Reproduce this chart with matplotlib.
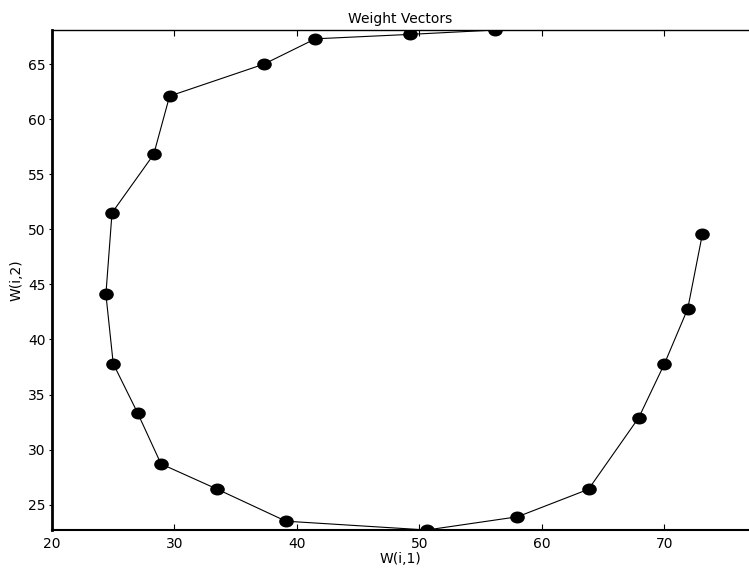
import numpy as np
import matplotlib
matplotlib.use("Agg")
import matplotlib.pyplot as plt
from matplotlib.path import Path
from matplotlib.transforms import Affine2D

# weight vector coordinates, in path order
w1 = [56.2, 49.2, 41.5, 37.3, 29.6, 28.3, 24.9, 24.4, 25.0, 27.0, 28.9,
      33.5, 39.1, 50.6, 58.0, 63.8, 67.9, 70.0, 71.9, 73.1]
w2 = [68.1, 67.7, 67.3, 65.0, 62.1, 56.8, 51.5, 44.1, 37.8, 33.3, 28.7,
      26.4, 23.5, 22.7, 23.9, 26.4, 32.9, 37.8, 42.8, 49.6]

xticks = [20, 30, 40, 50, 60, 70]
yticks = [25, 30, 35, 40, 45, 50, 55, 60, 65]

plt.rcParams['font.family'] = ['DejaVu Sans']

fig = plt.figure(figsize=(7.49, 5.75), dpi=100)
ax = fig.add_axes([52 / 749, 45 / 575, 697 / 749, 500 / 575])

# slightly wide ellipse marker, like the original dots
ellipse = Path.unit_circle().transformed(Affine2D().scale(1.25, 1.0))

ax.plot(w1, w2, color='black', lw=0.8, marker=ellipse, markersize=9.5,
        markerfacecolor='black', markeredgecolor='black')

ax.set_xlim(20, 76.9)
ax.set_ylim(22.7, 68.1)
ax.set_xticks(xticks)
ax.set_yticks(yticks)

ax.spines['right'].set_visible(False)
ax.spines['left'].set_linewidth(2.0)
ax.spines['bottom'].set_linewidth(1.5)
ax.spines['top'].set_linewidth(1.0)

ax.tick_params(axis='x', direction='in', top=True, length=4.5, width=0.8,
               labelsize=10, pad=5)
ax.tick_params(axis='y', direction='out', length=2.5, width=0.8,
               labelsize=10, pad=2)

ax.set_title('Weight Vectors', fontsize=10, pad=5)
ax.set_xlabel('W(i,1)', fontsize=10, labelpad=1)
ax.set_ylabel('W(i,2)', fontsize=10, labelpad=3)

fig.savefig('out.png', dpi=100)
